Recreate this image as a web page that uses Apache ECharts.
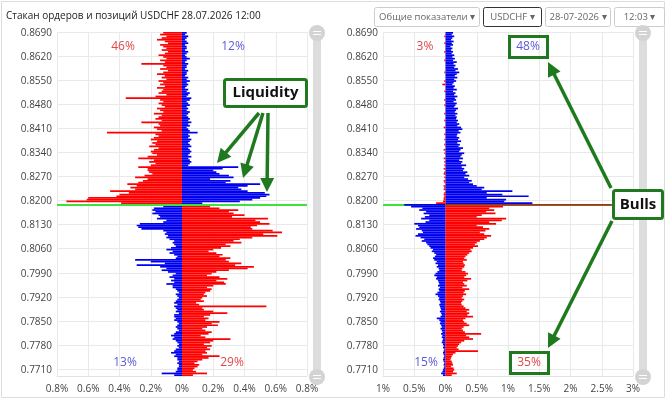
<!DOCTYPE html>
<html>
<head>
<meta charset="utf-8">
<script src="https://cdn.jsdelivr.net/npm/echarts@6/dist/echarts.min.js"></script>
<style>
  html, body { margin: 0; padding: 0; background: #fff; }
  #main { width: 670px; height: 402px; }
</style>
</head>
<body>
<div id="main"></div>
<script>
// уровни цены сверху вниз, шаг 0.0005
var prices = [];
for (var i = 0; i < 200; i++) prices.push((0.869 - i * 0.0005).toFixed(4));
var lastPrice = "0.8190";

// объёмы в сотых долях процента (0.01%), сверху вниз
// стакан ордеров: выше цены
var leftRedUp = [
  -12,-14,-10,-13,-16,-11,-9,-14,-12,-10,
  -13,-9,-11,-15,-12,-10,-14,-11,-26,-12,
  -10,-14,-9,-12,-16,-11,-13,-10,-15,-12,
  -14,-11,-16,-12,-13,-15,-10,-17,-36,-14,
  -12,-15,-13,-11,-16,-14,-12,-18,-13,-15,
  -17,-13,-26,-15,-14,-18,-16,-13,-48,-17,
  -15,-18,-20,-16,-19,-17,-21,-15,-18,-20,
  -19,-16,-22,-28,-18,-21,-17,-20,-28,-22,
  -22,-21,-19,-24,-30,-22,-25,-28,-35,-29,
  -33,-30,-46,-34,-40,-42,-60,-61,-74,-39
];
var leftBlueUp = [
  3,2,4,3,2,3,4,2,3,3,
  2,4,3,2,3,5,3,2,4,3,
  3,2,4,3,3,2,4,3,5,3,
  4,3,2,4,3,5,4,3,6,5,
  3,4,5,3,4,3,5,4,3,4,
  5,4,6,4,5,3,4,5,10,4,
  5,4,6,5,4,5,6,4,5,6,
  5,4,6,4,5,6,5,4,36,26,
  20,22,24,30,33,18,31,28,50,42,
  36,38,42,53,56,54,50,45,37,13
];
// стакан ордеров: ниже цены (первая строка - уровень цены)
var leftRedDown = [
  0,18,24,36,30,33,40,32,55,47,
  50,56,48,44,45,58,64,52,61,45,
  37,33,38,28,31,25,20,17,22,26,
  24,31,28,30,38,34,46,42,30,22,
  19,16,24,29,22,27,28,20,16,19,
  18,15,14,16,13,12,14,9,11,54,
  13,14,20,29,18,14,17,15,24,19,
  23,16,13,15,19,17,12,15,31,20,
  18,14,19,16,18,15,16,13,24,17,
  13,10,8,11,10,8,7,9,16,7
];
var leftBlueDown = [
  0,-12,-18,-19,-17,-19,-15,-14,-16,-10,
  -12,-27,-29,-28,-26,-12,-10,-11,-9,-10,
  -8,-5,-6,-5,-4,-7,-10,-6,-8,-5,
  -3,-4,-30,-20,-11,-29,-14,-10,-13,-9,
  -4,-6,-8,-5,-7,-5,-10,-6,-6,-4,
  -3,-2,-4,-3,-2,-3,-4,-5,-3,-5,
  -4,-3,-4,-2,-5,-5,-4,-5,-3,-2,
  -3,-4,-3,-2,-4,-5,-7,-5,-6,-4,
  -3,-2,-3,-2,-4,-5,-7,-4,-5,-3,
  -3,-2,-3,-2,-2,-3,-3,-4,-13,-5
];
// позиции: выше цены
var rightBlueUp = [
  12,10,14,11,9,13,10,12,8,11,
  9,12,10,14,11,15,12,18,13,16,
  14,20,16,22,18,15,19,14,17,13,
  11,15,13,18,12,16,14,19,15,17,
  13,18,16,14,20,17,15,19,16,18,
  17,20,18,22,19,25,27,21,24,19,
  18,22,20,25,19,23,21,28,24,22,
  30,26,24,28,22,27,25,33,26,30,
  28,35,32,38,30,36,42,38,44,50,
  62,58,107,66,91,133,66,97,94,139
];
var rightRedUp = [
  0,0,-2,0,0,0,-2,0,0,0,
  0,-2,0,0,0,0,-2,0,0,0,
  0,0,0,-2,0,0,0,0,-2,0,
  -5,0,0,0,-2,0,0,0,0,-2,
  0,0,-2,0,0,0,0,-2,0,0,
  0,-2,0,0,0,-3,0,0,0,-2,
  0,0,-2,0,0,-2,0,0,-3,0,
  -2,0,0,-3,0,-2,0,-2,0,-3,
  0,-2,-3,0,-2,0,-3,-2,0,-3,
  -2,-3,0,-2,-3,-2,-3,-3,-4,-15
];
// позиции: ниже цены
var rightBlueDown = [
  -66,-55,-37,-42,-31,-35,-26,-33,-39,-26,
  -32,-50,-44,-42,-47,-38,-36,-44,-48,-40,
  -34,-38,-31,-29,-26,-24,-20,-22,-18,-15,
  -17,-20,-18,-14,-16,-12,-14,-11,-10,-13,
  -16,-18,-14,-15,-12,-11,-10,-12,-9,-11,
  -10,-13,-16,-12,-10,-11,-9,-8,-10,-9,
  -8,-7,-9,-7,-6,-8,-14,-10,-8,-9,
  -7,-6,-8,-6,-5,-7,-5,-6,-4,-5,
  -6,-4,-3,-4,-2,-3,-4,-3,-2,-3,
  -4,-3,-2,-3,-2,-3,-4,-5,-7,-4
];
var rightRedDown = [
  266,92,70,78,65,80,58,50,97,90,
  70,81,50,60,70,64,55,62,73,66,
  62,55,50,47,52,44,40,42,38,35,
  32,30,34,28,29,31,30,27,26,32,
  36,33,30,41,35,28,30,34,27,38,
  31,29,33,28,26,30,27,25,26,29,
  32,38,34,38,35,44,32,28,30,34,
  38,29,26,28,31,57,33,38,44,30,
  25,22,20,18,21,52,16,12,10,9,
  8,10,11,12,9,13,14,12,18,10
];

// итоги по сторонам: [красный сверху, синий сверху, синий снизу, красный снизу]
var leftTotals = ["46%", "12%", "13%", "29%"];
var rightTotals = ["3%", "48%", "15%", "35%"];

var RED = "#ff0000", BLUE = "#0000f0", GREEN = "#1f7a1f";
var FONT = "'Open Sans', 'Noto Sans', sans-serif";

function pctLabel(v) {
  return Math.abs(v) / 100 + "%";
}

function yAxis(idx) {
  return {
    type: "category", gridIndex: idx, data: prices, inverse: true,
    axisLine: { show: false }, axisTick: { show: false },
    axisLabel: {
      interval: function (i) { return i % 14 === 0; },
      fontSize: 10, color: "#444", margin: 5, fontFamily: FONT
    },
    splitLine: {
      show: true,
      interval: function (i) { return i % 14 === 0; },
      lineStyle: { color: "#e9e9e9" }
    }
  };
}

function xAxis(idx, min, max, step) {
  return {
    type: "value", gridIndex: idx, min: min, max: max, interval: step,
    axisLine: { show: true, onZero: false, lineStyle: { color: "#e2e2e2" } },
    axisTick: { show: false },
    axisLabel: { formatter: pctLabel, fontSize: 10, color: "#444", fontFamily: FONT },
    splitLine: { show: true, lineStyle: { color: "#e9e9e9" } }
  };
}

function priceLine(z) {
  return {
    silent: true, symbol: ["none", "none"], z: z, animation: false,
    label: { show: false },
    lineStyle: { color: "#3ee03e", width: 2, type: "solid" },
    data: [{ yAxis: lastPrice }]
  };
}

// строка текущей цены на правой панели рисуется тёмно-красной
function withPriceRow(data, color) {
  var at = prices.indexOf(lastPrice);
  return data.map(function (v, k) {
    return k === at && color ? { value: v, itemStyle: { color: color } } : v;
  });
}

function bars(idx, data, color, mark) {
  var s = {
    type: "bar", xAxisIndex: idx, yAxisIndex: idx, data: data,
    barGap: "-100%", barCategoryGap: "0%",
    itemStyle: { color: color }, silent: true, animation: false
  };
  if (mark) s.markLine = mark;
  return s;
}

function arrow(x1, y1, x2, y2) {
  var dx = x2 - x1, dy = y2 - y1, len = Math.sqrt(dx * dx + dy * dy);
  var ux = dx / len, uy = dy / len, hl = 14, hw = 7;
  var bx = x2 - ux * hl, by = y2 - uy * hl;
  return [
    { type: "line", shape: { x1: x1, y1: y1, x2: bx + ux * 2, y2: by + uy * 2 },
      style: { stroke: GREEN, lineWidth: 3.5 } },
    { type: "polygon", shape: { points: [[x2, y2], [bx - uy * hw, by + ux * hw], [bx + uy * hw, by - ux * hw]] },
      style: { fill: GREEN } }
  ];
}

function text(x, y, str, size, color, weight, align) {
  return { type: "text", x: x, y: y,
    style: { text: str, fontSize: size, fill: color, fontWeight: weight || "normal",
      fontFamily: FONT, align: align || "center", verticalAlign: "middle" } };
}

function dropdown(x, w, str, border) {
  return [
    { type: "rect", shape: { x: x, y: 7.5, width: w, height: 19, r: 2 },
      style: { fill: "#fff", stroke: border, lineWidth: 1 } },
    text(x + w / 2, 17, str, 9.5, "#666")
  ];
}

function slider(cx) {
  var els = [
    { type: "rect", shape: { x: cx - 4, y: 33, width: 8, height: 344 }, style: { fill: "#dddddd" } }
  ];
  [33, 377].forEach(function (cy) {
    els.push({ type: "circle", shape: { cx: cx, cy: cy, r: 8 }, style: { fill: "#d3d3d3" } });
    els.push({ type: "line", shape: { x1: cx - 4, y1: cy - 1.5, x2: cx + 4, y2: cy - 1.5 }, style: { stroke: "#fff", lineWidth: 1 } });
    els.push({ type: "line", shape: { x1: cx - 4, y1: cy + 1.5, x2: cx + 4, y2: cy + 1.5 }, style: { stroke: "#fff", lineWidth: 1 } });
  });
  return els;
}

var elements = [].concat(
  [{ type: "rect", shape: { x: 1.5, y: 1.5, width: 663, height: 396 }, style: { fill: "none", stroke: "#dcdcdc", lineWidth: 1 } }],
  [text(6, 16, "Стакан ордеров и позиций USDCHF 28.07.2026 12:00", 10, "#222", "normal", "left")],
  dropdown(374.5, 105, "Общие показатели ▾", "#cccccc"),
  dropdown(483.5, 58, "USDCHF ▾", "#333333"),
  dropdown(545.5, 65, "28-07-2026 ▾", "#cccccc"),
  dropdown(614.5, 50, "12:03 ▾", "#cccccc"),
  slider(317), slider(643),
  [
    text(123, 47, leftTotals[0], 12, "#e04848"),
    text(233, 47, leftTotals[1], 12, "#5b5bd6"),
    text(125, 363, leftTotals[2], 12, "#5b5bd6"),
    text(232, 363, leftTotals[3], 12, "#e04848"),
    text(425, 47, rightTotals[0], 12, "#e04848"),
    text(528, 47, rightTotals[1], 12, "#5b5bd6"),
    text(426, 363, rightTotals[2], 12, "#5b5bd6"),
    text(529, 363, rightTotals[3], 12, "#e04848")
  ],
  // пометки
  arrow(259, 113, 217, 163), arrow(263, 113, 243, 178), arrow(268, 113, 267, 192),
  [{ type: "rect", shape: { x: 224.5, y: 79.5, width: 82, height: 27, r: 2 }, style: { fill: "#fff", stroke: GREEN, lineWidth: 3 } },
   text(265.5, 93, "Liquidity", 15, "#111", "bold")],
  arrow(611, 188, 548, 62), arrow(612, 221, 548, 348),
  [{ type: "rect", shape: { x: 613.5, y: 190.5, width: 49, height: 28, r: 2 }, style: { fill: "#fff", stroke: GREEN, lineWidth: 3 } },
   text(638, 205, "Bulls", 15, "#111", "bold"),
   { type: "rect", shape: { x: 509.5, y: 36.5, width: 38, height: 21 }, style: { fill: "none", stroke: GREEN, lineWidth: 3 } },
   { type: "rect", shape: { x: 510.5, y: 352.5, width: 38, height: 21 }, style: { fill: "none", stroke: GREEN, lineWidth: 3 } }]
);
elements.forEach(function (e) { e.z = 100; e.silent = true; });

var myChart = echarts.init(document.getElementById("main"));
myChart.setOption({
  animation: false,
  textStyle: { fontFamily: FONT },
  grid: [
    { left: 57, top: 32, width: 250, height: 344 },
    { left: 383, top: 32, width: 250, height: 344 }
  ],
  xAxis: [xAxis(0, -80, 80, 20), xAxis(1, -100, 300, 50)],
  yAxis: [yAxis(0), yAxis(1)],
  series: [
    bars(0, leftRedUp.concat(leftRedDown), RED),
    bars(0, leftBlueUp.concat(leftBlueDown), BLUE, priceLine(5)),
    bars(1, rightBlueUp.concat(rightBlueDown), BLUE, priceLine(1)),
    bars(1, withPriceRow(rightRedUp.concat(rightRedDown), "#a8321e"), RED)
  ],
  graphic: { elements: elements }
});
</script>
</body>
</html>
